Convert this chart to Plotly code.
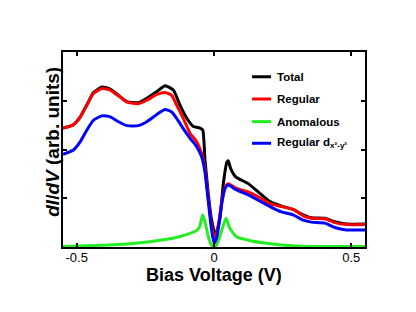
import plotly.graph_objects as go

# ---- data ----
x_total = [-0.55, -0.512, -0.487, -0.463, -0.439, -0.408, -0.378, -0.348, -0.317, -0.275, -0.245,
           -0.208, -0.178, -0.148, -0.124, -0.099, -0.075, -0.051, -0.041, -0.033, -0.021, -0.010,
           0.003, 0.012, 0.022, 0.034, 0.047, 0.052, 0.060, 0.079, 0.125, 0.161, 0.204, 0.246,
           0.288, 0.325, 0.355, 0.404, 0.440, 0.482, 0.55]
y_total = [2.44, 2.51, 2.67, 2.92, 3.17, 3.28, 3.24, 3.11, 2.98, 2.96, 3.05,
           3.19, 3.31, 3.22, 2.91, 2.64, 2.47, 2.44, 2.40, 1.80, 1.10, 0.60,
           0.28, 0.35, 0.60, 1.30, 1.74, 1.77, 1.62, 1.44, 1.30, 1.13, 0.93, 0.84,
           0.77, 0.66, 0.60, 0.59, 0.52, 0.47, 0.47]

x_regular = [-0.55, -0.512, -0.487, -0.463, -0.439, -0.408, -0.378, -0.348, -0.317, -0.275, -0.245,
             -0.208, -0.178, -0.154, -0.136, -0.112, -0.087, -0.063, -0.045, -0.033, -0.020, -0.010,
             0.0, 0.010, 0.020, 0.030, 0.040, 0.052, 0.082, 0.125, 0.161, 0.204, 0.246,
             0.288, 0.325, 0.355, 0.404, 0.440, 0.482, 0.55]
y_regular = [2.44, 2.51, 2.67, 2.91, 3.15, 3.25, 3.22, 3.10, 2.97, 2.94, 3.01,
             3.13, 3.17, 3.11, 2.91, 2.64, 2.33, 2.16, 1.92, 1.61, 0.95, 0.50,
             0.21, 0.30, 0.60, 1.00, 1.22, 1.30, 1.20, 1.13, 1.03, 0.89, 0.83,
             0.77, 0.64, 0.59, 0.58, 0.50, 0.46, 0.46]

x_anom = [-0.55, -0.44, -0.317, -0.196, -0.15, -0.087, -0.065, -0.052, -0.041, -0.030, -0.020,
          -0.010, 0.0, 0.010, 0.020, 0.030, 0.044, 0.058, 0.082, 0.125, 0.185, 0.246, 0.30,
          0.40, 0.55]
y_anom = [0.01, 0.03, 0.06, 0.14, 0.18, 0.28, 0.33, 0.42, 0.66, 0.45, 0.20,
          0.05, 0.0, 0.05, 0.20, 0.38, 0.59, 0.38, 0.21, 0.14, 0.08, 0.04, 0.02,
          0.01, 0.01]

x_dx2y2 = [-0.55, -0.512, -0.487, -0.463, -0.439, -0.408, -0.378, -0.348, -0.317, -0.275, -0.245,
           -0.208, -0.178, -0.154, -0.136, -0.112, -0.087, -0.063, -0.045, -0.033, -0.020, -0.010,
           0.0, 0.010, 0.020, 0.030, 0.040, 0.052, 0.082, 0.125, 0.161, 0.204, 0.246,
           0.288, 0.325, 0.355, 0.404, 0.440, 0.482, 0.55]
y_dx2y2 = [1.90, 1.99, 2.16, 2.40, 2.60, 2.69, 2.67, 2.57, 2.49, 2.49, 2.57,
           2.72, 2.82, 2.77, 2.64, 2.43, 2.23, 2.06, 1.85, 1.54, 0.90, 0.40,
           0.08, 0.20, 0.55, 0.95, 1.20, 1.27, 1.17, 1.07, 0.96, 0.83, 0.72,
           0.66, 0.55, 0.51, 0.49, 0.40, 0.35, 0.35]

names = ["Total", "Regular", "Anomalous", "Regular d<sub>x²-y²</sub>"]
colors = ["#000000", "#ff0000", "#22ee22", "#0000ff"]
series = [(x_total, y_total), (x_regular, y_regular), (x_anom, y_anom), (x_dx2y2, y_dx2y2)]

x_ticks = [-0.5, 0, 0.5]
x_ticklabels = ["-0.5", "0", "0.5"]
y_ticks = [1, 2, 3]
x_title = "<b>Bias Voltage (V)</b>"
y_title = "<b><i>dI</i>/<i>dV</i> (arb. units)</b>"

FONT = "Arial, Liberation Sans, Helvetica, sans-serif"

fig = go.Figure()
for i in range(4):
    xs, ys = series[i]
    fig.add_trace(go.Scatter(x=xs, y=ys, mode="lines", name=names[i],
                             line=dict(color=colors[i], width=3, shape="spline", smoothing=0.5),
                             showlegend=False))

# manual legend (short line samples like the reference)
leg_y = [0.873, 0.759, 0.643, 0.532]
for i in range(4):
    fig.add_shape(type="line", xref="paper", yref="paper",
                  x0=0.626, x1=0.689, y0=leg_y[i], y1=leg_y[i],
                  line=dict(color=colors[i], width=3))
    fig.add_annotation(xref="paper", yref="paper", x=0.702, y=leg_y[i],
                       xanchor="left", yanchor="middle", showarrow=False,
                       text="<b>" + names[i] + "</b>",
                       font=dict(family=FONT, size=11.5, color="black"))

# axis titles as annotations for precise placement
fig.add_annotation(xref="paper", yref="paper", x=0.5, y=-0.144,
                   xanchor="center", yanchor="middle", showarrow=False,
                   text=x_title, font=dict(family=FONT, size=18, color="black"))
fig.add_annotation(xref="paper", yref="paper", x=-0.033, y=0.54,
                   xanchor="center", yanchor="middle", showarrow=False, textangle=-90,
                   text=y_title, font=dict(family=FONT, size=19, color="black"))

fig.update_layout(
    width=400, height=296,
    margin=dict(l=55, r=43, t=44, b=57),
    paper_bgcolor="white", plot_bgcolor="white",
    font=dict(family=FONT, color="black"),
    xaxis=dict(range=[-0.55, 0.55], tickvals=x_ticks, ticktext=x_ticklabels,
               ticks="inside", ticklen=4, tickwidth=1.5, tickcolor="black",
               showline=True, linewidth=2, linecolor="black", mirror="ticks",
               showgrid=False, zeroline=False, ticklabelstandoff=-3,
               tickfont=dict(family=FONT, size=13, color="black")),
    yaxis=dict(range=[0, 4], tickvals=y_ticks, showticklabels=False,
               ticks="inside", ticklen=4, tickwidth=1.5, tickcolor="black",
               showline=True, linewidth=2, linecolor="black", mirror="ticks",
               showgrid=False, zeroline=False),
)

fig.write_html("out.html")
